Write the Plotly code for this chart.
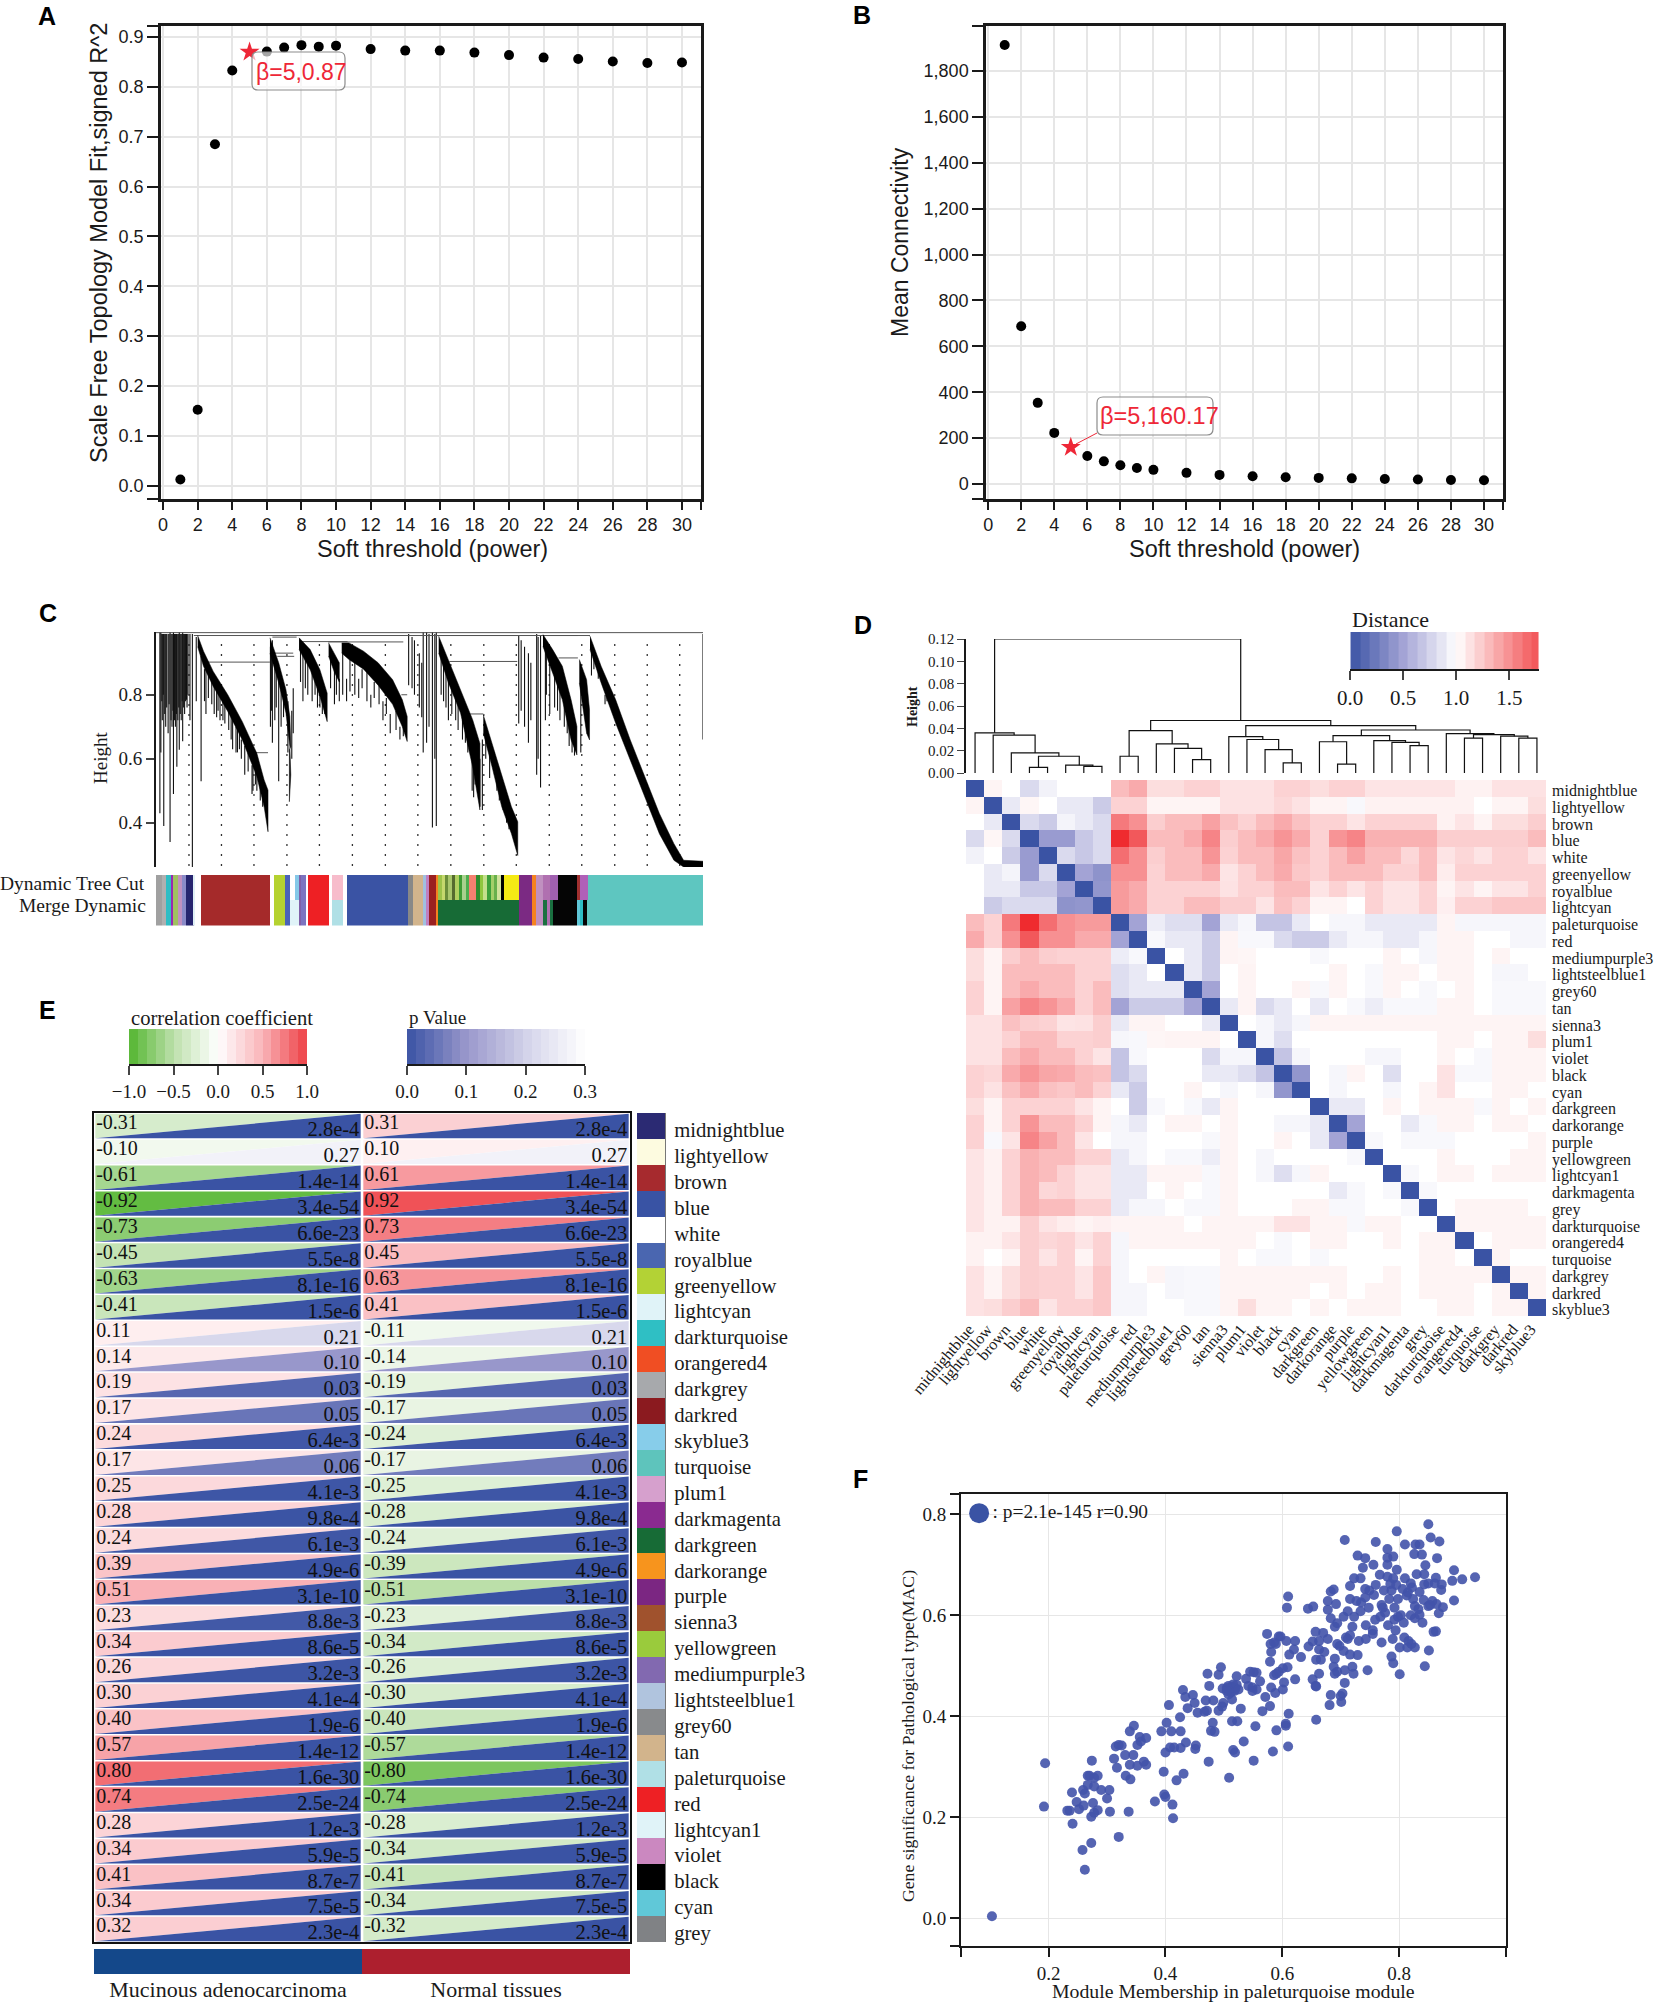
import plotly.graph_objects as go
from plotly.colors import sample_colorscale

W = 1654
H = 2005
SANS = "Liberation Sans"
SERIF = "Liberation Serif"
INK = "#1a1a1a"
GRID = "#e6e6e6"

# panels A and B
POWERS = [1, 2, 3, 4, 5, 6, 7, 8, 9, 10, 12, 14, 16, 18, 20, 22, 24, 26, 28, 30]
SFT_R2 = [0.012, 0.152, 0.685, 0.833, 0.87, 0.871, 0.879, 0.884, 0.881, 0.883,
          0.876, 0.873, 0.873, 0.869, 0.864, 0.859, 0.856, 0.851, 0.848, 0.849]
MEAN_K = [1913, 688, 354, 223, 160.17, 122, 99, 82, 70, 62,
          49, 40, 34, 30, 27, 25, 22, 20, 18, 17]
POWER_TICKS = [0, 2, 4, 6, 8, 10, 12, 14, 16, 18, 20, 22, 24, 26, 28, 30]
R2_TICKS = [0.0, 0.1, 0.2, 0.3, 0.4, 0.5, 0.6, 0.7, 0.8, 0.9]
K_TICKS = [0, 200, 400, 600, 800, 1000, 1200, 1400, 1600, 1800]

# panel C, leaves run 0..1128 across the tree
TREE_GUIDES = [68, 135, 202, 270, 337, 405, 473, 540, 608, 676, 743, 811, 878, 946, 1013, 1080]
# (leaves, top of band, bottom of band)
TREE_BANDS = [
    ([86, 98, 118, 148, 178, 208, 223, 231], [.985, .936, .873, .80, .716, .617, .534, .502], [.95, .889, .826, .748, .659, .544, .45, .372]),
    ([235, 253, 268, 276, 278, 275], [.978, .90, .816, .732, .638, .628], [.93, .837, .743, .638, .55, .466]),
    ([295, 318, 338, 353], [.978, .941, .878, .805], [.941, .878, .795, .716]),
    ([356, 368, 378], [.962, .93, .90], [.92, .87, .84]),
    ([383, 398, 428, 458, 488, 508, 518], [.962, .962, .936, .90, .847, .784, .732], [.93, .91, .88, .83, .77, .70, .654]),
    ([583, 603, 628, 653, 668], [.983, .91, .816, .722, .648], [.93, .837, .743, .575, .44]),
    ([675, 693, 713, 733, 746], [.737, .648, .544, .45, .403], [.68, .575, .45, .366, .298]),
    ([798, 818, 838, 856, 868], [.988, .941, .889, .784, .701], [.951, .868, .784, .659, .612]),
    ([873, 888, 894], [.91, .847, .753], [.837, .68, .659]),
    ([895, 918, 948, 978, 1008, 1038, 1068, 1088, 1128], [.983, .889, .784, .659, .544, .429, .335, .283, .28], [.941, .837, .711, .596, .481, .366, .283, .262, .262]),
]
SPIKE_LEAF = [8, 10, 12, 13, 15, 16, 18, 20, 22, 25, 27, 29, 31, 33, 35, 36, 38, 40, 42, 43, 45, 47, 48, 50, 52, 54, 55, 57, 59, 61, 63, 64, 66, 70, 75,
              83, 93, 103, 115, 125, 138, 158, 168, 183, 198, 208, 240, 253, 263, 283, 303, 313, 333, 343, 368, 378, 393, 418, 443, 468, 483, 503,
              521, 528, 533, 543, 548, 551, 558, 563, 570, 575, 578, 593, 603, 618, 638, 648, 658, 663, 668, 673, 698, 708, 723,
              748, 753, 760, 768, 773, 785, 788, 793, 803, 828, 848, 863, 876, 898, 926, 1128,
              100, 108, 120, 128, 132, 142, 150, 155, 165, 172, 176, 190, 200, 205, 215, 220,
              236, 238, 245, 248, 258, 272, 280, 298, 308, 322, 328, 338, 348,
              360, 372, 385, 400, 410, 425, 435, 450, 460, 475, 495, 510,
              588, 598, 610, 623, 632, 643, 652, 655, 680, 688, 703, 716, 728,
              805, 812, 822, 833, 842, 852, 858, 903, 912, 930, 940]
SPIKE_TOP = [.996, .996, .99, .99, .99, .99, .99, .99, .99, .99, .99, .996, .99, .99, .99, .996, .99, .99, .99, .99, .99, .99, .996, .99, .99, .99, .996, .99, .99, .99, .99, .99, .99, .99, .99,
             .98, .92, .89, .86, .83, .78, .73, .70, .64, .58, .55, .97, .85, .80, .82, .93, .90, .84, .80, .90, .85, .85, .85, .80, .78, .74, .70,
             .99, .98, .97, .93, .90, .996, .996, .99, .996, .99, .996, .93, .85, .80, .73, .72, .62, .62, .60, .66, .62, .57, .48,
             .985, .97, .95, .93, .90, .99, .98, .985, .94, .85, .75, .68, .88, .94, .80, .99,
             .88, .87, .84, .82, .80, .77, .75, .74, .70, .68, .66, .62, .58, .56, .52, .50,
             .95, .93, .91, .89, .84, .78, .75, .95, .93, .88, .86, .82, .78,
             .93, .90, .93, .91, .90, .88, .87, .84, .83, .79, .75, .72,
             .93, .87, .84, .77, .74, .72, .60, .58, .66, .62, .58, .52, .45,
             .93, .90, .87, .84, .80, .72, .70, .93, .90, .82, .79]
SPIKE_BOTTOM = [.43, .62, .78, .72, .80, .39, .74, .70, .76, .68, .77, .34, .72, .70, .75, .49, .72, .70, .74, .575, .72, .76, .628, .74, .72, .78, .655, .76, .74, .78, .784, .76, .80, .72, .262,
                .78, .53, .74, .77, .73, .72, .63, .62, .55, .49, .50, .65, .53, .73, .68, .78, .80, .76, .74, .77, .78, .78, .79, .76, .72, .68, .66,
                .83, .82, .80, .76, .73, .62, .65, .70, .385, .60, .39, .78, .72, .72, .65, .64, .52, .55, .45, .44, .55, .47, .40,
                .71, .75, .70, .65, .72, .55, .60, .51, .72, .75, .68, .61, .62, .86, .77, .66,
                .78, .79, .74, .75, .72, .71, .69, .66, .62, .63, .60, .56, .50, .52, .47, .45,
                .70, .75, .72, .76, .70, .62, .60, .84, .82, .78, .80, .76, .74,
                .82, .80, .80, .81, .80, .82, .78, .79, .77, .74, .69, .67,
                .80, .76, .74, .69, .66, .62, .50, .48, .60, .54, .50, .44, .38,
                .80, .74, .76, .72, .70, .64, .62, .88, .85, .78, .76]
LINK_FROM = [0, 78, 98, 203, 240, 243, 250, 300, 355, 506, 583, 605, 648, 790, 830]
LINK_TO = [1128, 895, 235, 231, 290, 283, 285, 395, 510, 518, 745, 745, 675, 870, 870]
LINK_H = [.994, .985, .902, .619, .98, .93, .92, .966, .965, .80, .985, .904, .74, .985, .915]
# (end of segment, colour) left to right, starting at leaf 0
CUT_ENDS = [13, 20, 30, 36, 46, 53, 62, 78, 81, 93, 235, 243, 266, 276, 286, 294, 300, 310, 313, 356, 363, 386, 394, 520, 530, 550, 556, 562, 578, 581,
            590, 596, 602, 610, 616, 624, 632, 640, 646, 660, 668, 675, 682, 690, 698, 704, 713, 717, 749, 776, 784, 798, 813, 828, 868, 875, 890, 1128]
CUT_COLORS = ["#a0a0a0", "#b0b0b0", "#2fbdc4", "#9c27b0", "#a0c060", "#c090c0", "#8a8ac8", "#26246e", "#e0f0f5", "#ffffff", "#a52a2a", "#ffffff", "#b5d230", "#4a62b8", "#ffffff", "#85c8e8", "#8060a8", "#7d74c0", "#ffffff", "#ee2024", "#ffffff", "#f7bccb", "#ffffff", "#3a53a4", "#888888", "#d2b48c", "#a0c0e0", "#c080c0", "#9a2020", "#f58220",
              "#9dc34a", "#c5d86d", "#6b8e3a", "#a8c66c", "#556b2f", "#b0d060", "#3f9c35", "#a9d18e", "#4cae4f", "#f58070", "#2e8b2e", "#8ec63f", "#c3df8b", "#3ca03c", "#a4cf6a", "#68b04c", "#d0e29c", "#000000", "#f5ea14", "#7b2a83", "#f58220", "#c090c0", "#b070b0", "#a060b0", "#050505", "#a03030", "#b060b8", "#5ec6c0"]
MERGE_ENDS = [13, 20, 30, 36, 46, 53, 62, 78, 81, 93, 235, 243, 266, 276, 294, 300, 310, 313, 356, 363, 386, 394, 520, 530, 550, 556, 562, 578, 581,
              749, 776, 784, 798, 806, 813, 818, 868, 875, 881, 888, 1128]
MERGE_COLORS = ["#a0a0a0", "#b0b0b0", "#2fbdc4", "#9c27b0", "#a0c060", "#c090c0", "#8a8ac8", "#26246e", "#e0f0f5", "#ffffff", "#a52a2a", "#ffffff", "#b5d230", "#4a62b8", "#e0f3f8", "#8060a8", "#7d74c0", "#ffffff", "#ee2024", "#ffffff", "#b0e0e6", "#ffffff", "#3a53a4", "#888888", "#d2b48c", "#a0c0e0", "#c080c0", "#9a2020", "#f58220",
                "#176b36", "#7b2a83", "#f58220", "#c090c0", "#1a7040", "#b070b0", "#1a7040", "#050505", "#60c8d8", "#2fbdc4", "#050505", "#5ec6c0"]

# panel D
D_MODULES = ["midnightblue", "lightyellow", "brown", "blue", "white", "greenyellow", "royalblue", "lightcyan",
             "paleturquoise", "red", "mediumpurple3", "lightsteelblue1", "grey60", "tan", "sienna3", "plum1",
             "violet", "black", "cyan", "darkgreen", "darkorange", "purple", "yellowgreen", "lightcyan1",
             "darkmagenta", "grey", "darkturquoise", "orangered4", "turquoise", "darkgrey", "darkred", "skyblue3"]
# upper triangle, each row starts just right of the diagonal
DIST_UPPER = [
    [1.05, 1.0, .8, .93, 1.0, 1.0, 1.0, 1.3, 1.38, 1.15, 1.15, 1.2, 1.2, 1.13, 1.13, 1.13, 1.2, 1.2, 1.15, 1.2, 1.2, 1.12, 1.12, 1.12, 1.12, 1.12, 1.06, 1.06, 1.13, 1.13, 1.13],
    [.88, 1.04, 1.0, .88, .88, .72, 1.2, 1.2, 1.05, 1.05, 1.05, 1.05, 1.13, 1.13, 1.13, 1.18, 1.13, 1.05, 1.05, .96, 1.06, 1.06, 1.06, 1.06, 1.06, 1.06, 1.0, 1.05, 1.05, 1.15],
    [.8, .72, .94, .88, .8, 1.6, 1.5, 1.22, 1.3, 1.3, 1.42, 1.28, 1.2, 1.3, 1.38, 1.28, 1.2, 1.2, 1.12, 1.2, 1.2, 1.2, 1.2, 1.06, 1.12, 1.05, 1.15, 1.15, 1.22],
    [.45, .45, .7, .8, 1.95, 1.75, 1.3, 1.3, 1.38, 1.55, 1.22, 1.3, 1.38, 1.48, 1.38, 1.2, 1.48, 1.55, 1.35, 1.35, 1.35, 1.35, 1.22, 1.22, 1.22, 1.22, 1.22, 1.3],
    [.8, .7, .8, 1.65, 1.5, 1.22, 1.3, 1.3, 1.48, 1.2, 1.3, 1.3, 1.4, 1.28, 1.2, 1.3, 1.42, 1.3, 1.3, 1.18, 1.3, 1.12, 1.18, 1.12, 1.2, 1.2, 1.12],
    [.5, .4, 1.5, 1.5, 1.2, 1.3, 1.3, 1.38, 1.12, 1.2, 1.3, 1.38, 1.25, 1.2, 1.3, 1.3, 1.3, 1.2, 1.2, 1.3, 1.08, 1.2, 1.2, 1.2, 1.2, 1.2],
    [.42, 1.45, 1.38, 1.2, 1.2, 1.2, 1.2, 1.13, 1.2, 1.2, 1.3, 1.3, 1.12, 1.2, 1.12, 1.2, 1.12, 1.12, 1.2, 1.05, 1.12, 1.05, 1.12, 1.12, 1.2],
    [1.45, 1.38, 1.2, 1.2, 1.3, 1.3, 1.22, 1.22, 1.12, 1.28, 1.2, 1.05, 1.05, 1.0, 1.2, 1.12, 1.12, 1.2, 1.07, 1.2, 1.2, 1.25, 1.25, 1.25],
    [.5, .9, .82, .82, .5, .88, .95, .68, .68, .88, 1.0, .95, .95, .88, .88, .88, .88, 1.05, .95, .95, .95, .95, .95],
    [.96, .88, .88, .72, 1.05, .96, .96, .8, .72, .72, .88, .95, .95, .88, .88, .95, 1.05, 1.05, 1.0, 1.0, .95, .95],
    [1.0, .88, .72, 1.05, 1.04, 1.0, 1.0, 1.0, .96, 1.0, 1.0, 1.0, 1.05, 1.0, .95, 1.05, 1.05, 1.0, 1.05, 1.0, 1.0],
    [.88, .72, 1.0, 1.05, 1.0, 1.0, 1.0, 1.0, 1.05, 1.0, .96, 1.05, 1.05, 1.0, 1.05, 1.05, 1.0, .95, .95, 1.0],
    [.5, 1.0, 1.05, 1.0, 1.0, 1.05, .96, 1.05, 1.0, .96, 1.05, 1.0, .96, 1.0, 1.05, 1.0, .96, .96, .96],
    [.88, 1.05, .8, .88, 1.0, .88, 1.0, .96, .9, .96, .96, .96, 1.05, 1.05, 1.0, .96, .96, .96],
    [1.0, .95, .88, .95, 1.05, 1.05, 1.05, 1.05, 1.05, 1.05, 1.05, 1.05, 1.05, 1.05, 1.05, 1.05, 1.05],
    [.95, .82, 1.0, 1.0, 1.0, 1.0, 1.0, 1.0, 1.0, 1.0, 1.05, 1.05, 1.0, 1.05, 1.05, 1.15],
    [.68, .95, 1.0, 1.0, 1.0, .95, .95, 1.0, 1.0, 1.05, 1.0, .96, 1.05, 1.05, 1.05],
    [.42, 1.0, .95, 1.05, 1.0, .82, 1.0, 1.0, 1.13, .96, .96, 1.05, 1.05, 1.05],
    [1.0, .95, 1.0, 1.0, .95, 1.0, 1.05, 1.13, 1.0, 1.0, 1.05, 1.05, 1.0],
    [.88, .88, 1.0, 1.05, 1.0, 1.05, 1.05, 1.05, .96, 1.05, 1.0, 1.05],
    [.5, 1.0, 1.0, .88, .96, 1.05, 1.05, 1.0, 1.05, 1.05, 1.0],
    [.96, 1.0, .96, .96, .96, 1.0, 1.0, 1.0, 1.0, 1.05],
    [1.0, 1.0, 1.0, 1.05, 1.0, 1.0, 1.0, 1.05, 1.05],
    [.96, 1.0, 1.05, 1.05, 1.0, 1.05, 1.05, 1.05],
    [.96, 1.0, 1.0, 1.0, 1.0, 1.0, 1.0],
    [1.0, 1.05, 1.05, 1.05, 1.05, 1.0],
    [1.05, 1.05, 1.05, 1.05, 1.05],
    [1.0, 1.05, 1.05, 1.05],
    [1.05, 1.0, 1.0],
    [1.05, 1.05],
    [1.05],
]
DIST_STEPS = [0.05, 0.14, 0.23, 0.32, 0.41, 0.5, 0.59, 0.68, 0.77, 0.86, 0.95, 1.04, 1.13, 1.22, 1.31, 1.4, 1.49, 1.58, 1.67, 1.74]
DIST_TICKS = [0.0, 0.5, 1.0, 1.5]
DIST_SCALE = [[0, "#3a53a4"], [0.25, "#a3a3d5"], [0.5, "#ffffff"], [1, "#ee2024"]]
# merges as in a linkage table, ids from 32 up are earlier merges
DEND_LEFT = [3, 6, 5, 32, 2, 1, 0, 8, 12, 11, 10, 39, 17, 16, 15, 14, 20, 19, 24, 23, 22, 49, 27, 30, 29, 54, 26, 53, 47, 43]
DEND_RIGHT = [4, 7, 33, 34, 35, 36, 37, 9, 13, 40, 41, 42, 18, 44, 45, 46, 21, 48, 25, 50, 51, 52, 28, 31, 55, 56, 57, 58, 59, 60]
DEND_H = [.005, .006, .007, .015, .018, .034, .036, .015, .012, .022, .026, .038, .009, .021, .03, .0325, .008, .028, .0245, .0275, .029, .0335, .0313, .0313, .033, .0343, .0352, .0385, .0424, .047]

# panel E
E_MODULES = ["midnightblue", "lightyellow", "brown", "blue", "white", "royalblue", "greenyellow", "lightcyan",
             "darkturquoise", "orangered4", "darkgrey", "darkred", "skyblue3", "turquoise", "plum1", "darkmagenta",
             "darkgreen", "darkorange", "purple", "sienna3", "yellowgreen", "mediumpurple3", "lightsteelblue1", "grey60",
             "tan", "paleturquoise", "red", "lightcyan1", "violet", "black", "cyan", "grey"]
E_COLORS = ["#2b2a73", "#fdfbe0", "#a62a2e", "#3953a4", "#ffffff", "#4a66b0", "#b3d235", "#e0f3f8",
            "#2fbfc4", "#f04e23", "#a7a9ac", "#8b1a1f", "#87cdea", "#5ec4bc", "#d6a0cd", "#8a2a90",
            "#176b36", "#f7941d", "#7b2682", "#a0522d", "#9acb3c", "#8269b0", "#b0c4de", "#888a8c",
            "#d2b48c", "#b0e0e6", "#ee2024", "#e0f3f8", "#cb88c0", "#000000", "#60c8d8", "#808285"]
COR_MAC = [-0.31, -0.10, -0.61, -0.92, -0.73, -0.45, -0.63, -0.41, 0.11, 0.14, 0.19, 0.17, 0.24, 0.17, 0.25, 0.28,
           0.24, 0.39, 0.51, 0.23, 0.34, 0.26, 0.30, 0.40, 0.57, 0.80, 0.74, 0.28, 0.34, 0.41, 0.34, 0.32]
P_LABELS = ["2.8e-4", "0.27", "1.4e-14", "3.4e-54", "6.6e-23", "5.5e-8", "8.1e-16", "1.5e-6", "0.21", "0.10", "0.03", "0.05", "6.4e-3", "0.06", "4.1e-3", "9.8e-4",
            "6.1e-3", "4.9e-6", "3.1e-10", "8.8e-3", "8.6e-5", "3.2e-3", "4.1e-4", "1.9e-6", "1.4e-12", "1.6e-30", "2.5e-24", "1.2e-3", "5.9e-5", "8.7e-7", "7.5e-5", "2.3e-4"]
GROUPS = ["Mucinous adenocarcinoma", "Normal tissues"]
GROUP_COLORS = ["#14488a", "#ad1f2e"]
COR_STEPS = [-0.95, -0.85, -0.75, -0.65, -0.55, -0.45, -0.35, -0.25, -0.15, -0.05, 0.05, 0.15, 0.25, 0.35, 0.45, 0.55, 0.65, 0.75, 0.85, 0.95]
COR_TICKS = [-1.0, -0.5, 0.0, 0.5, 1.0]
COR_TICKTEXT = ["\u22121.0", "\u22120.5", "0.0", "0.5", "1.0"]
COR_SCALE = [[0, "#52b52e"], [0.25, "#bde0ac"], [0.5, "#ffffff"], [0.75, "#f9b3b8"], [1, "#ee4045"]]
P_STEPS = [0.0075, 0.0225, 0.0375, 0.0525, 0.0675, 0.0825, 0.0975, 0.1125, 0.1275, 0.1425, 0.1575, 0.1725, 0.1875, 0.2025, 0.2175, 0.2325, 0.2475, 0.2625, 0.2775, 0.2925]
P_TICKS = [0.0, 0.1, 0.2, 0.3]
P_SCALE = [[0, "#3a53a4"], [0.34, "#9a98cc"], [0.7, "#d8d8ec"], [1, "#ffffff"]]

# panel F
F_X = [.103, .194, .192, .24, .232, .236, .241, .248, .252, .26, .262, .259, .258, .262, .273, .273, .278, .284, .276, .267, .27, .278, .284, .274, .267, .278, .29, .304, .3, .305, .32, .337,
       .312, .315, .32, .325, .317, .331, .332, .34, .339, .345, .339, .346, .352, .363, .367, .352, .358, .356, .367, .393, .402, .406, .41, .397, .4, .408, .415, .426, .426, .425, .435, .452, .451,
       .398, .4, .382, .412, .413, .419, .431, .43, .434, .447, .45, .438, .455, .467, .471, .469, .482, .475, .472, .491, .495, .498, .499, .497, .491, .481, .478, .484, .474, .509, .516, .519, .534, .551, .554, .514, .523, .529, .514,
       .505, .508, .51, .512, .515, .518, .52, .508, .516, .512, .505, .522, .525, .522, .538, .545, .556, .551, .562, .542, .549, .556, .549,
       .571, .566, .579, .611, .59, .606, .606, .61, .584, .581, .588, .601, .603, .59, .586, .594, .601, .609, .579, .581, .58, .574, .586, .594, .597, .589, .607, .612, .622, .62, .632, .622,
       .652, .657, .658, .663, .658, .666, .645, .652, .663, .663, .672, .657, .67, .678, .608, .61, .644, .653, .658, .681, .683, .703, .7, .701, .707, .69, .694, .688, .69, .707, .722, .72, .746, .729, .716, .705, .698, .712, .694, .709, .716, .731, .743, .755, .755,
       .72, .743, .69, .694, .683, .678, .678, .683, .688, .692, .705, .712, .723, .734, .716, .727, .742, .707, .729, .742, .738, .716, .723, .734, .742, .749, .76, .756, .767, .774, .78, .78, .79, .78, .796, .81, .796, .79, .78, .81,
       .828, .835, .826, .839, .85, .854, .869, .865, .845, .843, .83, .82, .843, .85, .861, .863, .873, .894, .891, .908, .93, .894, .875, .868, .857, .864, .85, .835, .827, .824, .813, .798, .783, .787, .806, .827, .835, .798, .792, .781, .794, .789, .768, .759, .77, .787, .79, .801, .844, .851, .859, .863, .827, .816, .821, .814, .801, .809,
       .735, .748, .757, .77, .776, .785, .792, .803, .815, .822, .833, .842, .853, .872, .76, .772, .795, .808, .82, .84]
F_Y = [.004, .307, .221, .249, .213, .213, .187, .23, .216, .223, .247, .254, .135, .096, .149, .201, .209, .214, .228, .282, .282, .278, .282, .312, .264, .261, .254, .254, .237, .211, .161, .211,
       .316, .34, .343, .342, .298, .323, .282, .275, .304, .323, .37, .381, .302, .31, .304, .343, .35, .359, .357, .37, .387, .422, .37, .29, .328, .338, .338, .337, .37, .398, .348, .342, .335,
       .245, .24, .231, .225, .198, .273, .286, .452, .438, .442, .426, .416, .407, .409, .411, .431, .431, .46, .484, .482, .497, .455, .426, .419, .411, .387, .371, .369, .31, .278, .333, .328, .35, .312, .38, .39, .39, .415, .433,
       .456, .46, .452, .447, .458, .45, .455, .443, .463, .456, .45, .462, .453, .479, .474, .488, .486, .487, .469, .46, .457, .453, .45,
       .438, .41, .42, .405, .372, .385, .381, .34, .33, .457, .446, .453, .467, .484, .481, .488, .495, .497, .508, .527, .543, .563, .546, .558, .558, .543, .549, .522, .549, .532, .517, .473,
       .473, .46, .459, .484, .512, .512, .538, .548, .549, .532, .527, .567, .565, .553, .615, .637, .613, .617, .393, .422, .442, .445, .44, .428, .466, .484, .488, .498, .514, .491, .484, .498, .491, .521, .522, .529, .539, .553, .543, .556, .56, .549, .553, .563, .57,
       .577, .58, .577, .584, .594, .611, .628, .647, .651, .622, .597, .608, .597, .608, .632, .628, .635, .749, .718, .713, .694, .658, .673, .673, .652, .649, .745, .7, .68, .649, .731, .714, .716, .7, .766, .74, .69, .673, .676, .673,
       .74, .74, .721, .72, .78, .754, .746, .713, .699, .681, .681, .663, .661, .663, .663, .674, .661, .689, .668, .671, .675, .629, .616, .604, .628, .622, .618, .646, .618, .632, .639, .632, .632, .649, .652, .594, .601, .597, .591, .58, .57, .553, .597, .591, .546, .518, .505, .483, .499, .53, .567, .568, .536, .549, .543, .536, .536, .556,
       .625, .615, .64, .62, .605, .662, .615, .6, .645, .655, .612, .63, .62, .65, .66, .615, .66, .585, .6, .585]
F_X_TICKS = [0.2, 0.4, 0.6, 0.8]
F_Y_TICKS = [0.0, 0.2, 0.4, 0.6, 0.8]


def px(x):
    return x / W


def py(y):
    return 1 - y / H


fig = go.Figure()
annotations = []
shapes = []


def place(n, left, top, right, bottom, xaxis=None, yaxis=None):
    # pixel box -> axis pair number n
    xa = dict(domain=[px(left), px(right)], anchor=f"y{n}", showgrid=False, zeroline=False, automargin=False)
    ya = dict(domain=[py(bottom), py(top)], anchor=f"x{n}", showgrid=False, zeroline=False, automargin=False)
    xa.update(xaxis or {})
    ya.update(yaxis or {})
    fig.update_layout({f"xaxis{n}": xa, f"yaxis{n}": ya})


def label(x, y, text, size, family=SERIF, angle=0, anchor="center", color=INK):
    annotations.append(dict(
        x=px(x), y=py(y), xref="paper", yref="paper", text=text, showarrow=False,
        font=dict(family=family, size=size, color=color), textangle=angle,
        xanchor=anchor, yanchor="middle",
    ))


def rounded_box(x0, y0, x1, y1, r=6):
    d = (f"M {px(x0 + r)},{py(y0)} L {px(x1 - r)},{py(y0)} Q {px(x1)},{py(y0)} {px(x1)},{py(y0 + r)} "
         f"L {px(x1)},{py(y1 - r)} Q {px(x1)},{py(y1)} {px(x1 - r)},{py(y1)} "
         f"L {px(x0 + r)},{py(y1)} Q {px(x0)},{py(y1)} {px(x0)},{py(y1 - r)} "
         f"L {px(x0)},{py(y0 + r)} Q {px(x0)},{py(y0)} {px(x0 + r)},{py(y0)} Z")
    shapes.append(dict(type="path", xref="paper", yref="paper", path=d,
                       line=dict(color="#8c8c8c", width=1.2), fillcolor="rgba(255,255,255,0.65)"))


def scale_color(scale, t):
    return sample_colorscale(scale, [max(0, min(1, t))], colortype="rgb")[0]


def threshold_panel(n, box, values, xr, yr, yticks, ytext):
    # soft threshold scatter, A and B share this
    left, top, right, bottom = box
    base = dict(showline=True, linecolor=INK, linewidth=2.5, mirror=True, ticks="outside",
                tickwidth=1.6, tickcolor=INK, showgrid=True, gridcolor=GRID, gridwidth=1.6,
                tickfont=dict(family=SANS, size=18, color=INK))
    place(n, left, top, right, bottom,
          dict(base, range=xr, ticklen=8, tickvals=POWER_TICKS + [xr[1]], ticktext=[str(p) for p in POWER_TICKS] + [""]),
          dict(base, range=yr, ticklen=11, tickvals=[yr[0]] + yticks + [yr[1]], ticktext=[""] + ytext + [""]))
    xs = [p for p in POWERS if p != 5]
    ys = [v for p, v in zip(POWERS, values) if p != 5]
    fig.add_trace(go.Scatter(x=xs, y=ys, mode="markers", xaxis=f"x{n}", yaxis=f"y{n}",
                             marker=dict(color="#000000", size=10)))
    fig.add_trace(go.Scatter(x=[5], y=[values[POWERS.index(5)]], mode="markers", xaxis=f"x{n}", yaxis=f"y{n}",
                             marker=dict(color="#ee2737", size=15, symbol="star", line=dict(width=0))))


# A
threshold_panel(1, (161, 26, 701, 499), SFT_R2, [-0.12, 31.1], [-0.027, 0.9224],
                R2_TICKS, [f"{v:.1f}" for v in R2_TICKS])
label(99, 243, "Scale Free Topology Model Fit,signed R^2", 23.5, SANS, -90)
label(432, 549, "Soft threshold (power)", 23.5, SANS)
rounded_box(252, 52, 345, 90)
label(301, 72, "\u03b2=5,0.87", 23, SANS, color="#ee2737")
label(47, 16, "<b>A</b>", 25, SANS, color="#000000")

# B
threshold_panel(2, (986, 26, 1503, 499), MEAN_K, [-0.13, 31.15], [-65, 1996],
                K_TICKS, [f"{v:,}" for v in K_TICKS])
label(900, 242, "Mean Connectivity", 23, SANS, -90)
label(1244, 549, "Soft threshold (power)", 23.5, SANS)
rounded_box(1097, 397, 1213, 435)
label(1159, 416, "\u03b2=5,160.17", 23.5, SANS, color="#ee2737")
shapes.append(dict(type="line", xref="paper", yref="paper", x0=px(1076), y0=py(444), x1=px(1097), y1=py(433),
                   line=dict(color="#ee2737", width=1)))
label(862, 15, "<b>B</b>", 25, SANS, color="#000000")

# C
place(3, 156, 632, 703, 867,
      dict(range=[0, 1128], visible=False),
      dict(range=[0.262, 0.996], showline=True, linecolor=INK, linewidth=2, ticks="outside", ticklen=8, tickwidth=1.6,
           tickvals=[0.4, 0.6, 0.8], ticktext=["0.4", "0.6", "0.8"], tickfont=dict(family=SERIF, size=19, color=INK)))
guide_x, guide_y = [], []
for leaf in TREE_GUIDES:
    guide_x += [leaf, leaf, None]
    guide_y += [0.265, 0.965, None]
fig.add_trace(go.Scatter(x=guide_x, y=guide_y, mode="lines", xaxis="x3", yaxis="y3",
                         line=dict(color="#333333", width=1.3, dash="2px,8px")))
spike_x, spike_y = [], []
for leaf, t, b in zip(SPIKE_LEAF, SPIKE_TOP, SPIKE_BOTTOM):
    spike_x += [leaf, leaf, None]
    spike_y += [t, b, None]
fig.add_trace(go.Scatter(x=spike_x, y=spike_y, mode="lines", xaxis="x3", yaxis="y3",
                         line=dict(color="#111111", width=1.1)))
link_x, link_y = [], []
for a, b, h in zip(LINK_FROM, LINK_TO, LINK_H):
    link_x += [a, b, None]
    link_y += [h, h, None]
fig.add_trace(go.Scatter(x=link_x, y=link_y, mode="lines", xaxis="x3", yaxis="y3",
                         line=dict(color="#555555", width=1)))
for leaves, tops, bottoms in TREE_BANDS:
    fig.add_trace(go.Scatter(x=leaves + leaves[::-1], y=tops + bottoms[::-1], mode="lines", fill="toself",
                             xaxis="x3", yaxis="y3", fillcolor="#000000", line=dict(color="#000000", width=0.5)))
label(100, 758, "Height", 19, SERIF, -90)
place(4, 156, 875, 703, 925.5,
      dict(range=[0, 1128], visible=False),
      dict(range=[1, -1], visible=False))
for row, ends, colors in [(-0.5, CUT_ENDS, CUT_COLORS), (0.5, MERGE_ENDS, MERGE_COLORS)]:
    starts = [0] + ends[:-1]
    fig.add_trace(go.Bar(y=[row] * len(ends), x=[e - s for s, e in zip(starts, ends)], base=starts, orientation="h",
                         width=1, xaxis="x4", yaxis="y4", marker=dict(color=colors, line=dict(width=0))))
label(147, 883, "Dynamic Tree Cut", 19.5, SERIF, anchor="right")
label(148, 906, "Merge Dynamic", 19.5, SERIF, anchor="right")
label(48, 613, "<b>C</b>", 25, SANS, color="#000000")

# D
n_mod = len(D_MODULES)
dist = [[0.0] * n_mod for _ in range(n_mod)]
for i, row in enumerate(DIST_UPPER):
    for k, v in enumerate(row):
        dist[i][i + 1 + k] = v
        dist[i + 1 + k][i] = v
place(6, 966, 780, 1546, 1316,
      dict(range=[-0.5, n_mod - 0.5], tickvals=[i - 0.35 for i in range(n_mod)], ticktext=D_MODULES, tickangle=-50, ticks="",
           tickfont=dict(family=SERIF, size=16, color=INK)),
      dict(range=[n_mod - 0.5, -0.5], tickvals=[i + 0.13 for i in range(n_mod)], ticktext=D_MODULES, side="right", ticks="",
           ticklabelstandoff=5, tickfont=dict(family=SERIF, size=16, color=INK)))
fig.add_trace(go.Heatmap(z=dist, x=list(range(n_mod)), y=list(range(n_mod)), xaxis="x6", yaxis="y6",
                         zmin=0, zmax=2, colorscale=DIST_SCALE, showscale=False, xgap=0, ygap=0))
# walk the merge table so each node sits midway over its children
node_pos = {i: (float(i), 0.0) for i in range(n_mod)}
den_x, den_y = [], []
for k, (a, b, h) in enumerate(zip(DEND_LEFT, DEND_RIGHT, DEND_H)):
    xa, ha = node_pos[a]
    xb, hb = node_pos[b]
    den_x += [xa, xa, xb, xb, None]
    den_y += [ha, h, h, hb, None]
    node_pos[n_mod + k] = ((xa + xb) / 2, h)
xl, hl = node_pos[38]
xr_, hr = node_pos[61]
den_x += [xl, xl, xr_, xr_, None]
den_y += [hl, 0.12, 0.12, hr, None]
place(5, 966, 639, 1546, 773,
      dict(range=[-0.5, n_mod - 0.5], visible=False),
      dict(range=[0, 0.12], showline=True, linecolor=INK, linewidth=1.5, ticks="outside", ticklen=7, tickwidth=1.3,
           tickvals=[0, .02, .04, .06, .08, .10, .12],
           ticktext=["0.00", "0.02", "0.04", "0.06", "0.08", "0.10", "0.12"],
           tickfont=dict(family=SERIF, size=15, color=INK)))
fig.add_trace(go.Scatter(x=den_x, y=den_y, mode="lines", xaxis="x5", yaxis="y5", line=dict(color="#111111", width=1.2)))
label(912, 707, "<b>Height</b>", 14, SERIF, -90)
place(7, 1350, 632, 1539, 669,
      dict(range=[0, 1.78], tickvals=DIST_TICKS, ticktext=[f"{v:.1f}" for v in DIST_TICKS], ticks="outside", ticklen=9,
           tickwidth=1.5, showline=True, linecolor=INK, linewidth=1.5, tickfont=dict(family=SERIF, size=21, color=INK)),
      dict(range=[-0.5, 0.5], visible=False))
fig.add_trace(go.Heatmap(z=[DIST_STEPS], x=DIST_STEPS, y=[0], xaxis="x7", yaxis="y7", zmin=0, zmax=2,
                         colorscale=DIST_SCALE, showscale=False))
label(1350, 619, "Distance", 22, SERIF, anchor="left")
label(863, 625, "<b>D</b>", 25, SANS, color="#000000")

# E colour keys
for n, box, steps, ticks, ticktext, zr, scale, title, title_size in [
    (8, (129, 1029, 307, 1064), COR_STEPS, COR_TICKS, COR_TICKTEXT, (-1, 1), COR_SCALE, "correlation coefficient", 20.6),
    (9, (407, 1029, 585, 1064), P_STEPS, P_TICKS, [f"{v:.1f}" for v in P_TICKS], (0, 0.3), P_SCALE, "p Value", 19),
]:
    place(n, *box,
          dict(range=list(zr), tickvals=ticks, ticktext=ticktext, ticks="outside", ticklen=9, tickwidth=1.5,
               showline=True, linecolor=INK, linewidth=1.5, tickfont=dict(family=SERIF, size=19, color=INK)),
          dict(range=[-0.5, 0.5], visible=False))
    fig.add_trace(go.Heatmap(z=[steps], x=steps, y=[0], xaxis=f"x{n}", yaxis=f"y{n}", zmin=zr[0], zmax=zr[1],
                             colorscale=scale, showscale=False))
    label(box[0], 1018, title, title_size, SERIF, anchor="left")

# E triangles
n_rows = len(E_MODULES)
frame = dict(showline=True, linecolor="#111111", linewidth=2, mirror=True, ticks="", showticklabels=False)
place(10, 94, 1113, 630, 1942, dict(frame, range=[0, 2]), dict(frame, range=[n_rows, 0]))
text_x, text_y, text_v = [], [], []
p_x, p_y, p_v = [], [], []
for col in range(2):
    sign = 1 if col == 0 else -1
    for row in range(n_rows):
        r = sign * COR_MAC[row]
        p = float(P_LABELS[row])
        y0, y1 = row + 0.03, row + 0.97
        fig.add_trace(go.Scatter(x=[col + 0.005, col + 0.995, col + 0.005, col + 0.005], y=[y0, y0, y1, y0],
                                 mode="lines", fill="toself", xaxis="x10", yaxis="y10", line=dict(width=0),
                                 fillcolor=scale_color(COR_SCALE, (r + 1) / 2)))
        fig.add_trace(go.Scatter(x=[col + 0.005, col + 0.995, col + 0.995, col + 0.005], y=[y1, y0, y1, y1],
                                 mode="lines", fill="toself", xaxis="x10", yaxis="y10", line=dict(width=0),
                                 fillcolor=scale_color(P_SCALE, p / 0.3)))
        text_x.append(col + 0.008)
        text_y.append(row + 0.44)
        text_v.append(f"{r:.2f}")
        p_x.append(col + 0.99)
        p_y.append(row + 0.70)
        p_v.append(P_LABELS[row])
fig.add_trace(go.Scatter(x=text_x, y=text_y, text=text_v, mode="text", textposition="middle right", xaxis="x10", yaxis="y10",
                         textfont=dict(family=SERIF, size=20, color="#111111")))
fig.add_trace(go.Scatter(x=p_x, y=p_y, text=p_v, mode="text", textposition="middle left", xaxis="x10", yaxis="y10",
                         textfont=dict(family=SERIF, size=20.5, color="#111111")))
place(11, 637, 1113, 665, 1942,
      dict(range=[0, 1], visible=False),
      dict(range=[n_rows - 0.5, -0.5], side="right", ticks="", tickvals=[i + 0.15 for i in range(n_rows)], ticktext=E_MODULES,
           ticklabelstandoff=4, showline=True, linecolor="#777777", linewidth=1, tickfont=dict(family=SERIF, size=20.7, color=INK)))
fig.add_trace(go.Bar(x=[1] * n_rows, y=list(range(n_rows)), orientation="h", width=1, xaxis="x11", yaxis="y11",
                     marker=dict(color=E_COLORS, line=dict(width=0))))
place(12, 94, 1949, 630, 1974,
      dict(range=[-0.5, 1.5], tickvals=[0, 1], ticktext=GROUPS, ticks="", showline=False,
           tickfont=dict(family=SERIF, size=22, color=INK)),
      dict(range=[-0.5, 0.5], visible=False))
fig.add_trace(go.Bar(x=[0, 1], y=[1, 1], base=[-0.5, -0.5], width=1, xaxis="x12", yaxis="y12",
                     marker=dict(color=GROUP_COLORS, line=dict(width=0))))
label(47, 1010, "<b>E</b>", 25, SANS, color="#000000")

# F
f_axis = dict(showline=True, linecolor=INK, linewidth=2, mirror=True, ticks="outside", ticklen=9, tickwidth=1.5,
              tickcolor=INK, showgrid=True, gridcolor=GRID, gridwidth=1.4, tickfont=dict(family=SERIF, size=19, color=INK))
place(13, 961, 1494, 1506, 1946,
      dict(f_axis, range=[0.05, 0.983], tickvals=[0.05] + F_X_TICKS + [0.983], ticktext=[""] + [f"{v:.1f}" for v in F_X_TICKS] + [""]),
      dict(f_axis, range=[-0.055, 0.84], tickvals=[-0.055] + F_Y_TICKS + [0.84], ticktext=[""] + [f"{v:.1f}" for v in F_Y_TICKS] + [""]))
fig.add_trace(go.Scatter(x=F_X, y=F_Y, mode="markers", xaxis="x13", yaxis="y13",
                         marker=dict(color="#4353aa", size=10, opacity=0.9, line=dict(width=0))))
fig.add_trace(go.Scatter(x=[0.081], y=[0.802], mode="markers+text", text=[": p=2.1e-145 r=0.90"], textposition="middle right",
                         xaxis="x13", yaxis="y13", marker=dict(color="#3a53a4", size=20),
                         textfont=dict(family=SERIF, size=19.4, color=INK)))
label(908, 1736, "Gene significance for Pathological type(MAC)", 17.7, SERIF, -90)
label(1233, 1991, "Module Membership in paleturquoise module", 19.8, SERIF)
label(860, 1479, "<b>F</b>", 25, SANS, color="#000000")

fig.update_layout(
    width=W, height=H, margin=dict(l=0, r=0, t=0, b=0), showlegend=False, bargap=0, barmode="overlay",
    paper_bgcolor="white", plot_bgcolor="white", annotations=annotations, shapes=shapes,
)
fig.write_html("out.html", post_script="document.body.style.margin='0';", config={"displayModeBar": False})
